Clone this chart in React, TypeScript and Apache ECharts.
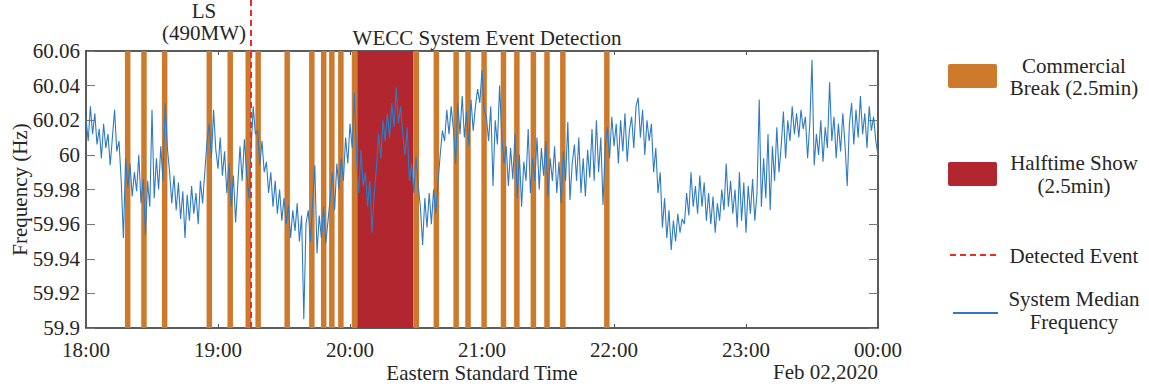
import React, { useEffect, useRef } from "react";
import * as echarts from "echarts";

// Minutes after 18:00 (Eastern Standard Time), Feb 02, 2020
const xTickLabels = ["18:00", "19:00", "20:00", "21:00", "22:00", "23:00", "00:00"];
const yTickMin = 59.9;
const yTickMax = 60.06;
const yTickStep = 0.02;

// commercial break start times (minutes after 18:00), each 2.5 min long
const breakStarts = [
  17.7, 25.1, 34.5, 54.8, 64.3, 72.5, 77.0, 90.2, 101.4, 106.8, 110.5, 114.6, 120.8,
  148.9, 158.0, 167.0, 172.4, 179.7, 188.5, 194.6, 202.1, 208.3, 215.5, 235.5,
];
const breakDuration = 2.5;
const halftimeStart = 123.3;
const halftimeEnd = 148.8;
const eventMinute = 75;

// system median frequency, one sample per minute starting 18:00
const freqValues = [
  60.021, 60.008, 60.028, 60.012, 60.024, 60.006, 60.015, 59.998, 60.018, 60.004,
  60.012, 59.994, 60.010, 60.026, 60.002, 60.008, 59.985, 59.952, 59.998, 59.981,
  59.995, 59.976, 59.990, 59.979, 60.000, 59.972, 59.986, 59.954, 59.985, 59.970,
  60.026, 59.975, 59.998, 59.980, 60.005, 59.985, 60.030, 60.004, 59.990, 59.972,
  59.988, 59.968, 59.984, 59.963, 59.979, 59.952, 59.977, 59.962, 59.982, 59.966,
  59.978, 59.960, 59.985, 59.972, 59.990, 60.008, 60.018, 59.998, 60.026, 60.003,
  59.992, 60.010, 59.988, 60.002, 59.978, 59.995, 59.970, 59.988, 59.961, 59.983,
  60.005, 59.985, 60.009, 59.990, 59.975, 60.002, 60.028, 60.012, 60.014, 59.994,
  60.008, 59.990, 59.996, 59.978, 59.990, 59.970, 59.985, 59.966, 59.980, 59.962,
  59.975, 59.960, 59.971, 59.952, 59.968, 59.956, 59.972, 59.950, 59.965, 59.905,
  59.960, 59.968, 59.950, 59.972, 59.994, 59.943, 59.965, 59.952, 59.970, 59.949,
  59.962, 59.975, 59.990, 59.968, 59.995, 59.980, 59.998, 59.985, 60.010, 59.995,
  60.018, 60.004, 60.036, 59.998, 59.978, 60.003, 59.982, 59.990, 59.970, 59.985,
  59.955, 59.978, 59.992, 60.012, 59.998, 60.020, 60.008, 60.024, 60.010, 60.030,
  60.016, 60.039, 60.018, 60.028, 60.012, 60.000, 60.016, 59.985, 59.995, 59.978,
  59.999, 59.982, 59.970, 59.948, 59.975, 59.958, 59.978, 59.960, 59.980, 59.966,
  59.984, 60.000, 60.014, 60.008, 60.026, 60.012, 60.028, 60.015, 59.995, 60.030,
  60.012, 60.034, 60.010, 60.025, 60.005, 60.032, 60.014, 60.028, 60.038, 60.030,
  60.049, 60.026, 60.022, 60.008, 60.028, 59.982, 60.020, 60.006, 60.040, 60.010,
  59.995, 60.005, 59.982, 60.004, 59.986, 60.012, 59.975, 60.000, 59.970, 59.996,
  59.985, 60.015, 59.978, 59.998, 59.985, 60.010, 59.980, 60.004, 59.988, 60.008,
  59.976, 59.998, 59.985, 60.005, 59.978, 59.996, 59.972, 60.002, 59.985, 60.019,
  59.974, 59.995, 60.006, 59.985, 60.010, 59.978, 59.998, 59.976, 60.003, 59.987,
  60.015, 59.985, 60.020, 59.990, 60.010, 59.971, 60.005, 60.016, 59.998, 60.022,
  60.005, 60.018, 59.995, 60.020, 60.002, 60.024, 59.996, 60.014, 60.022, 60.004,
  60.028, 60.033, 60.010, 60.026, 60.000, 60.020, 60.008, 60.018, 59.990, 60.004,
  59.978, 59.990, 59.958, 59.975, 59.952, 59.968, 59.945, 59.962, 59.950, 59.966,
  59.955, 59.963, 59.960, 59.978, 59.965, 59.990, 59.970, 59.982, 59.966, 59.988,
  59.970, 59.984, 59.962, 59.978, 59.960, 59.976, 59.955, 59.972, 59.962, 59.980,
  59.968, 59.995, 59.970, 59.985, 59.966, 59.980, 59.958, 59.990, 59.962, 59.984,
  59.955, 59.982, 59.966, 59.986, 59.962, 59.978, 60.032, 59.970, 59.998, 59.975,
  60.012, 59.968, 60.005, 59.985, 60.016, 59.990, 60.005, 60.025, 59.998, 60.020,
  60.008, 60.028, 60.012, 60.024, 60.010, 60.026, 60.015, 60.022, 59.998, 60.018,
  60.055, 59.994, 60.012, 60.000, 60.020, 59.996, 60.016, 60.004, 60.042, 60.008,
  60.022, 59.998, 60.018, 60.002, 60.024, 60.006, 59.982, 60.018, 60.030, 60.006,
  60.026, 60.010, 60.034, 60.012, 60.024, 60.004, 60.028, 60.014, 60.022, 60.008,
  60.000,
];

const FONT = "'Liberation Serif', 'Times New Roman', serif";
const TXT = "#262626";
const ORANGE = "#CD7A2D";
const RED = "#B2262F";
const BLUE = "#2E7BC4";
const EVENT_RED = "#EE2B24";

export default function App() {
  const ref = useRef<HTMLDivElement>(null);

  useEffect(() => {
    if (!ref.current) return;
    const chart = echarts.init(ref.current, undefined, { renderer: "svg" });

    const lineData = freqValues.map((v, i) => [i, v]);
    const breakAreas = breakStarts.map((s) => [
      { xAxis: s, itemStyle: { color: ORANGE } },
      { xAxis: s + breakDuration },
    ]);
    const halftimeArea = [
      { xAxis: halftimeStart, itemStyle: { color: RED } },
      { xAxis: halftimeEnd },
    ];

    const axisCommon = {
      type: "value" as const,
      axisLine: { show: true, onZero: false, lineStyle: { color: TXT, width: 1.5 } },
      splitLine: { show: false },
    };

    chart.setOption({
      animation: false,
      textStyle: { fontFamily: FONT },
      title: {
        text: "WECC System Event Detection",
        left: 482,
        top: 22,
        textAlign: "center",
        textStyle: { fontFamily: FONT, fontSize: 21, fontWeight: "normal", color: TXT },
      },
      grid: {
        left: 86,
        right: 271,
        top: 51,
        bottom: 59,
        containLabel: false,
        outerBoundsMode: "none",
      },
      xAxis: [
        {
          ...axisCommon,
          min: 0,
          max: 360,
          interval: 60,
          position: "bottom",
          axisTick: { show: true, inside: true, length: 4, lineStyle: { color: "#555" } },
          axisLabel: {
            fontFamily: FONT,
            fontSize: 21,
            color: TXT,
            margin: 11,
            formatter: (v: number) => xTickLabels[Math.round(v / 60)] ?? "",
          },
          name: "Eastern Standard Time",
          nameLocation: "middle",
          nameGap: 34,
          nameMoveOverlap: false,
          nameTextStyle: { fontFamily: FONT, fontSize: 21, color: TXT },
        },
        {
          ...axisCommon,
          min: 0,
          max: 360,
          interval: 60,
          position: "top",
          axisTick: { show: true, inside: true, length: 4, lineStyle: { color: "#555" } },
          axisLabel: { show: false },
        },
      ],
      yAxis: [
        {
          ...axisCommon,
          min: yTickMin,
          max: yTickMax,
          interval: yTickStep,
          position: "left",
          axisTick: { show: true, inside: true, length: 9, lineStyle: { color: "#777" } },
          axisLabel: {
            fontFamily: FONT,
            fontSize: 21,
            color: TXT,
            margin: 6,
            formatter: (v: number) => String(parseFloat(v.toFixed(2))),
          },
          name: "Frequency (Hz)",
          nameLocation: "middle",
          nameGap: 56,
          nameMoveOverlap: false,
          nameTextStyle: { fontFamily: FONT, fontSize: 21, color: TXT },
        },
        {
          ...axisCommon,
          min: yTickMin,
          max: yTickMax,
          interval: yTickStep,
          position: "right",
          axisTick: { show: true, inside: true, length: 9, lineStyle: { color: "#777" } },
          axisLabel: { show: false },
        },
      ],
      series: [
        {
          type: "line",
          name: "areas",
          data: [],
          z: 1,
          silent: true,
          markArea: {
            silent: true,
            data: [...breakAreas, halftimeArea],
          },
        },
        {
          type: "line",
          name: "System Median Frequency",
          data: lineData,
          z: 3,
          symbol: "none",
          showSymbol: false,
          lineStyle: { color: BLUE, width: 1.1 },
          silent: true,
        },
        {
          type: "line",
          name: "event",
          data: [],
          z: 5,
          silent: true,
          markLine: {
            silent: true,
            symbol: "none",
            label: { show: false },
            lineStyle: { color: EVENT_RED, type: [6, 4], width: 2 },
            data: [{ xAxis: eventMinute }],
          },
        },
      ],
    });

    const px = chart.convertToPixel({ xAxisIndex: 0 }, eventMinute) as number;
    const topY = chart.convertToPixel({ yAxisIndex: 0 }, yTickMax) as number;

    const txt = (text: string, x: number, y: number, align = "center") => ({
      type: "text",
      x,
      y,
      style: {
        text,
        fontFamily: FONT,
        fontSize: 21,
        fill: TXT,
        align,
        verticalAlign: "middle",
      },
    });

    chart.setOption({
      graphic: [
        {
          type: "line",
          shape: { x1: px, y1: 0, x2: px, y2: topY },
          style: { stroke: EVENT_RED, lineWidth: 2, lineDash: [6, 4] },
          z: 10,
        },
        txt("LS", px - 47, 11),
        txt("(490MW)", px - 47, 33),
        txt("Feb 02,2020", 878, 372, "right"),
        { type: "rect", shape: { x: 948, y: 64, width: 49, height: 24, r: 2 }, style: { fill: ORANGE } },
        txt("Commercial", 1074, 66),
        txt("Break (2.5min)", 1074, 88),
        { type: "rect", shape: { x: 948, y: 162, width: 49, height: 24, r: 2 }, style: { fill: RED } },
        txt("Halftime Show", 1074, 163),
        txt("(2.5min)", 1074, 186),
        {
          type: "line",
          shape: { x1: 950, y1: 255, x2: 997, y2: 255 },
          style: { stroke: EVENT_RED, lineWidth: 2, lineDash: [6, 4] },
        },
        txt("Detected Event", 1074, 256),
        {
          type: "line",
          shape: { x1: 953, y1: 313, x2: 998, y2: 313 },
          style: { stroke: BLUE, lineWidth: 2 },
        },
        txt("System Median", 1074, 299),
        txt("Frequency", 1074, 322),
      ],
    });

    return () => chart.dispose();
  }, []);

  return (
    <div
      ref={ref}
      style={{ position: "fixed", left: 0, top: 0, width: 1149, height: 387, background: "#fff" }}
    />
  );
}
